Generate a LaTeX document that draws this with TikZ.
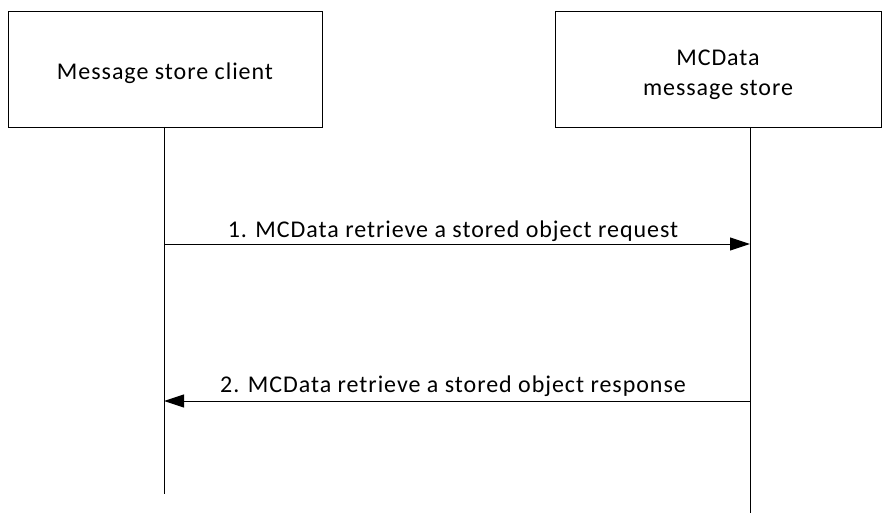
\documentclass[tikz,border=0pt]{standalone}
\usepackage{fontspec}
\setmainfont{Carlito}[LetterSpace=4]
\usetikzlibrary{arrows.meta}
\begin{document}
\begin{tikzpicture}[x=1pt,y=-1pt,
  actor/.style={draw,line width=1pt,minimum width=314pt,minimum height=116pt,inner sep=0pt,anchor=north west},
  atext/.style={align=center,inner sep=0pt,font=\fontsize{24}{30}\selectfont},
  life/.style={line width=1pt},
  msg/.style={line width=1pt,-{Triangle[length=20pt,width=13pt]}},
  lbl/.style={font=\fontsize{24}{30}\selectfont,inner sep=0pt}]
\useasboundingbox (0,0) rectangle (896,513);
\node[actor] (c) at (8,11) {};
\node[actor,minimum width=326pt] (s) at (555,11) {};
\node[atext] (ct) at (165,73) {Message store client};
\node[atext] (st) at (718,75) {MCData\\message store};
\coordinate (cb) at (164,127);
\coordinate (ce) at (164,494);
\coordinate (sb) at (750,127);
\coordinate (se) at (750,513);
\draw[life] (cb) -- (ce);
\draw[life] (sb) -- (se);
\coordinate (m1a) at (164,244);
\coordinate (m1b) at (750,244);
\coordinate (m2a) at (750,401);
\coordinate (m2b) at (164,401);
\draw[msg] (m1a) -- (m1b);
\draw[msg] (m2a) -- (m2b);
\node[lbl] (l1) at (453,231) {1. MCData retrieve a stored object request};
\node[lbl] (l2) at (453,386) {2. MCData retrieve a stored object response};
\end{tikzpicture}
\end{document}
